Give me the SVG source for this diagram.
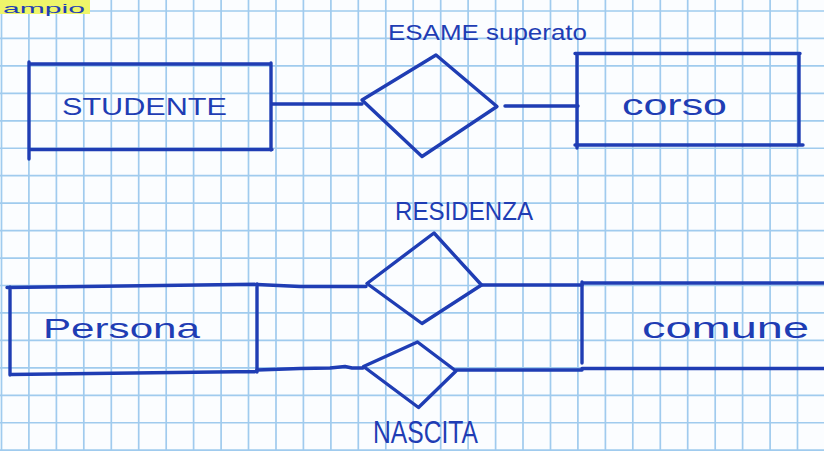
<svg xmlns="http://www.w3.org/2000/svg" width="824" height="451" viewBox="0 0 824 451">
  <defs>
    <style>
      .grid { stroke: #a0cbee; stroke-width: 1.7; fill: none; }
      .ink { stroke: #1f3db4; stroke-width: 3.4; fill: none; stroke-linecap: round; stroke-linejoin: round; }
      .lbl { fill: #1f3db4; font-family: "Liberation Sans", "DejaVu Sans", sans-serif; }
    </style>
  </defs>

  <!-- squared notebook paper -->
  <rect x="0" y="0" width="824" height="451" fill="#fbfdff"/>
  <path class="grid" d="M1.5 0V451M28.9 0V451M56.4 0V451M83.8 0V451M111.3 0V451M138.7 0V451M166.2 0V451M193.6 0V451M221.1 0V451M248.5 0V451M276 0V451M303.4 0V451M330.9 0V451M358.3 0V451M385.8 0V451M413.2 0V451M440.7 0V451M468.1 0V451M495.6 0V451M523 0V451M550.5 0V451M577.9 0V451M605.4 0V451M632.8 0V451M660.3 0V451M687.7 0V451M715.2 0V451M742.6 0V451M770.1 0V451M797.5 0V451
    M0 11H824M0 38.45H824M0 65.9H824M0 93.35H824M0 120.8H824M0 148.25H824M0 175.7H824M0 203.15H824M0 230.6H824M0 258.05H824M0 285.5H824M0 312.95H824M0 340.4H824M0 367.85H824M0 395.3H824M0 422.75H824M0 450.2H824"/>

  <!-- highlighted heading along the top edge -->
  <rect x="0" y="0" width="90" height="14" fill="#eef56a"/>
  <text class="lbl" x="3" y="13" font-size="13" textLength="82" lengthAdjust="spacingAndGlyphs">ampio</text>

  <!-- connectors -->
  <g id="connectors">
    <path class="ink" d="M272 104H362"/>
    <path class="ink" d="M505 106H578"/>
    <path class="ink" d="M257 284.5L300 286.5H366"/>
    <path class="ink" d="M257 370L300 368.5L330 368L345 366.5L352 368H363"/>
    <path class="ink" d="M482 285H582"/>
    <path class="ink" d="M456 370H582"/>
  </g>

  <g id="studente">
    <path class="ink" d="M29 62V159M29 64H271M271 63V150M29 149.5H272"/>
    <text class="lbl" x="62" y="115" font-size="24" textLength="165" lengthAdjust="spacingAndGlyphs">STUDENTE</text>
  </g>

  <g id="esame-superato">
    <path class="ink" d="M362 100L436 55L497 106.5L422 156.5Z"/>
    <text class="lbl" x="388" y="40" font-size="22" textLength="199" lengthAdjust="spacingAndGlyphs">ESAME superato</text>
  </g>

  <g id="corso">
    <path class="ink" d="M577 55V148M575 53.5H800M799 55V145M575 145H803"/>
    <text class="lbl" x="622" y="115" font-size="30" textLength="105" lengthAdjust="spacingAndGlyphs">corso</text>
  </g>

  <g id="persona">
    <path class="ink" d="M7 287.5L257 284.3M10 287V375M10 374.5L257 371.5M257 284V372"/>
    <text class="lbl" x="43" y="338" font-size="28" textLength="157" lengthAdjust="spacingAndGlyphs">Persona</text>
  </g>

  <g id="residenza">
    <path class="ink" d="M367 283.5L434 233L481.5 285L422 323.5Z"/>
    <text class="lbl" x="395" y="220" font-size="26" textLength="138" lengthAdjust="spacingAndGlyphs">RESIDENZA</text>
  </g>

  <g id="nascita">
    <path class="ink" d="M363.5 366.5L417.5 342L456 371L418.5 407.5Z"/>
    <text class="lbl" x="373" y="443" font-size="32" textLength="105" lengthAdjust="spacingAndGlyphs">NASCITA</text>
  </g>

  <g id="comune">
    <path class="ink" d="M582 282V363M582 283H824M582 368.5H824"/>
    <text class="lbl" x="642" y="338" font-size="30" textLength="167" lengthAdjust="spacingAndGlyphs">comune</text>
  </g>
</svg>
